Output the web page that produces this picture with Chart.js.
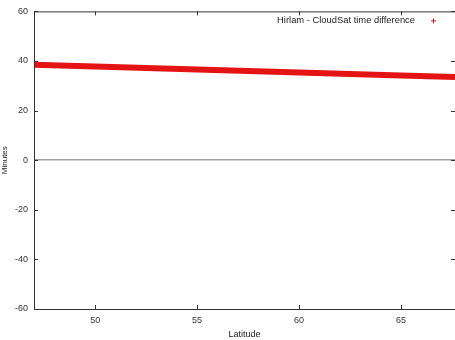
<!DOCTYPE html>
<html><head><meta charset="utf-8">
<script src="https://cdn.jsdelivr.net/npm/chart.js@4/dist/chart.umd.min.js"></script>
<style>html,body{margin:0;padding:0;background:#fff;overflow:hidden}#wrap{width:455px;height:340px}</style>
</head><body><div id="wrap"><canvas id="c" width="455" height="340"></canvas></div>
<script>
const latitudes = [47, 50, 55, 60, 65, 67.65];
const timeDiff = [38.5, 37.8, 36.6, 35.4, 34.2, 33.5];
const xTicks = [50, 55, 60, 65];
const yTicks = [-60, -40, -20, 0, 20, 40, 60];
const seriesLabel = 'Hirlam - CloudSat time difference';
const seriesColor = '#e41414';

const frame = {
  id: 'frame',
  afterDatasetsDraw(chart) {
    const {ctx, chartArea: a, scales: {x, y}} = chart;
    ctx.save();
    ctx.strokeStyle = '#333';
    ctx.lineWidth = 1;
    ctx.beginPath();
    ctx.moveTo(a.left + 0.5, a.top + 0.5); ctx.lineTo(a.right, a.top + 0.5);
    ctx.moveTo(a.left + 0.5, a.top); ctx.lineTo(a.left + 0.5, a.bottom + 0.5);
    ctx.moveTo(a.left, a.bottom + 0.5); ctx.lineTo(a.right, a.bottom + 0.5);
    xTicks.forEach(v => {
      const px = Math.round(x.getPixelForValue(v)) + 0.5;
      ctx.moveTo(px, a.bottom); ctx.lineTo(px, a.bottom - 4);
      ctx.moveTo(px, a.top); ctx.lineTo(px, a.top + 4);
    });
    yTicks.forEach(v => {
      const py = Math.round(y.getPixelForValue(v)) + 0.5;
      ctx.moveTo(a.left, py); ctx.lineTo(a.left + 4, py);
      ctx.moveTo(a.right, py); ctx.lineTo(a.right - 4, py);
    });
    ctx.stroke();
    // key: text then symbol, gnuplot style
    ctx.font = '9.4px "Liberation Sans"';
    ctx.fillStyle = '#222';
    ctx.textAlign = 'right';
    ctx.textBaseline = 'middle';
    const ky = a.top + 9;
    ctx.fillText(seriesLabel, a.right - 40, ky);
    ctx.strokeStyle = seriesColor;
    ctx.beginPath();
    const cx = a.right - 21.5;
    ctx.moveTo(cx - 2.5, ky + 0.5); ctx.lineTo(cx + 2.5, ky + 0.5);
    ctx.moveTo(cx, ky - 2); ctx.lineTo(cx, ky + 3);
    ctx.stroke();
    ctx.restore();
  }
};

new Chart(document.getElementById('c'), {
  type: 'line',
  data: {
    datasets: [{
      label: seriesLabel,
      data: latitudes.map((v, i) => ({x: v, y: timeDiff[i]})),
      borderColor: seriesColor,
      backgroundColor: seriesColor,
      borderWidth: 6,
      pointRadius: 0,
      tension: 0
    }]
  },
  plugins: [frame],
  options: {
    responsive: false,
    animation: false,
    layout: {padding: {top: 10, right: 0, left: 0, bottom: 0}},
    plugins: {
      legend: {display: false},
      tooltip: {enabled: false}
    },
    scales: {
      x: {
        type: 'linear',
        min: 47, max: 67.65,
        afterBuildTicks(s) { s.ticks = xTicks.map(v => ({value: v})); },
        afterFit(s) { s.height = 31; },
        grid: {display: false, drawTicks: false},
        border: {display: false},
        ticks: {padding: 6, color: '#333', font: {family: 'Liberation Sans', size: 9}},
        title: {display: true, text: 'Latitude', color: '#222', font: {family: 'Liberation Sans', size: 9}, padding: {top: 0, bottom: 0}}
      },
      y: {
        type: 'linear',
        min: -60, max: 60,
        afterBuildTicks(s) { s.ticks = yTicks.map(v => ({value: v})); },
        afterFit(s) { s.width = 34; },
        grid: {
          drawTicks: false,
          color: ctx => ctx.tick && ctx.tick.value === 0 ? '#a0a0a0' : 'rgba(0,0,0,0)',
          lineWidth: ctx => ctx.tick && ctx.tick.value === 0 ? 1.5 : 0
        },
        border: {display: false},
        ticks: {padding: 6, color: '#333', font: {family: 'Liberation Sans', size: 9}},
        title: {display: true, text: 'Minutes', color: '#222', font: {family: 'Liberation Sans', size: 8}, padding: {top: 0, bottom: 0}}
      }
    }
  }
});
</script>
</body></html>
